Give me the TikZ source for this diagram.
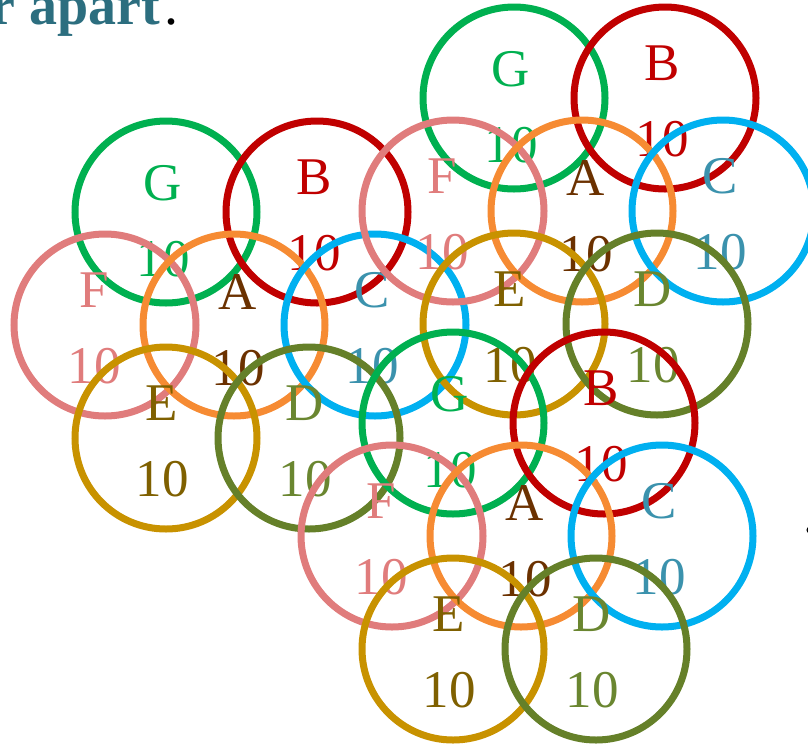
\documentclass[tikz,border=0pt]{standalone}
\usepackage{fontspec}
\setmainfont{Liberation Serif}
\usepackage{xcolor}
\usetikzlibrary{positioning}

\definecolor{ringG}{HTML}{00B050}
\definecolor{ringB}{HTML}{C00000}
\definecolor{ringF}{HTML}{E07C7C}
\definecolor{ringA}{HTML}{F68B33}
\definecolor{ringC}{HTML}{00B0F0}
\definecolor{ringE}{HTML}{C89200}
\definecolor{ringD}{HTML}{658029}
\definecolor{tagA}{HTML}{6B3100}
\definecolor{tagC}{HTML}{3B92AD}
\definecolor{tagE}{HTML}{7F6000}
\definecolor{tagD}{HTML}{6A8630}
\definecolor{headteal}{HTML}{2C6E7F}

\begin{document}
\begin{tikzpicture}[x=1pt, y=-1pt,
    ring/.style={circle, draw=#1, line width=7pt, minimum size=182pt, inner sep=0pt},
    tag/.style={text=#1, font=\fontsize{53}{53}\selectfont, inner sep=0pt}]
    \useasboundingbox (0,0) rectangle (808,745);

    % heading, cut off by the frame
    \node[anchor=base east, text=headteal, font=\fontsize{56}{56}\selectfont\bfseries] (head) at (164,24) {r apart};
    \node[anchor=base west, font=\fontsize{56}{56}\selectfont, inner sep=0pt] (headdot) at (head.base east) {.};

    % three clusters of seven rings
    \foreach \cx/\cy/\n in {166/212/1, 514/98/2, 453/423/3} {
        \foreach \l/\dx/\dy/\rc/\tc/\sh/\lo in {
            G/0/0/ringG/ringG/-3/6,
            B/151/0/ringB/ringB/-3/0,
            F/-61/113/ringF/ringF/-11/0,
            A/68/113/ringA/tagA/4/2,
            C/209/113/ringC/tagC/-3/0,
            E/0/226/ringE/tagE/-4/0,
            D/143/226/ringD/tagD/-4/0} {
            \node[ring=\rc] (\l\n) at (\cx+\dx,\cy+\dy) {};
            \node[tag=\tc] (\l\n-name) at ([xshift=\sh pt, yshift=35pt-\lo pt]\l\n.center) {\l};
            \node[tag=\tc] (\l\n-val) at ([xshift=\sh pt, yshift=-41pt-\lo pt]\l\n.center) {10};
        }
    }

    % mark at the right edge
    \node[circle, fill=black, inner sep=2.5pt] (edgemark) at (810,530) {};
\end{tikzpicture}
\end{document}
